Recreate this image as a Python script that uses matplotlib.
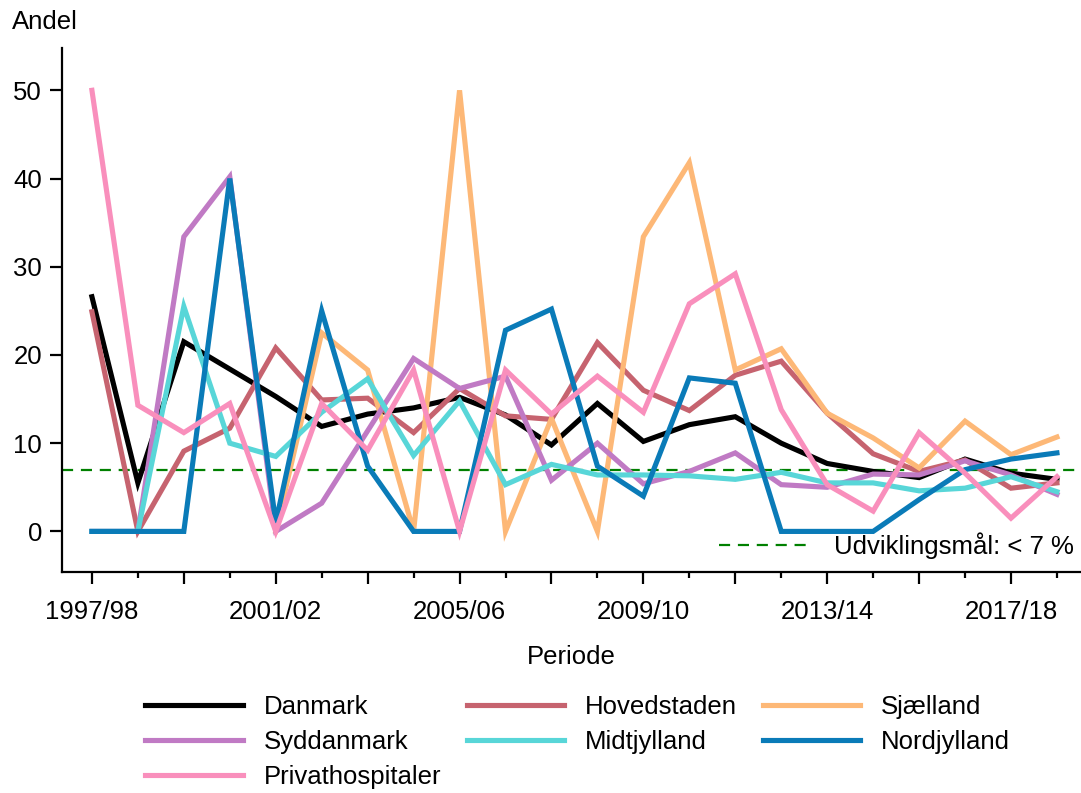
import numpy as np
import matplotlib
matplotlib.use('Agg')
import matplotlib.pyplot as plt
from matplotlib.lines import Line2D

plt.rcParams['font.family'] = ['Liberation Sans', 'DejaVu Sans']
FS = 18.5

# Perioder 1997/98 - 2018/19
periods = [f"{y}/{str(y + 1)[-2:]}" for y in range(1997, 2019)]

nan = np.nan
danmark = [26.6, 5.5, 21.5, 18.4, 15.3, 11.9, 13.3, 14.0, 15.2, 13.2, 9.8,
           14.5, 10.2, 12.1, 13.0, 10.0, 7.7, 6.8, 6.1, 8.2, 6.6, 5.9]
hovedstaden = [24.9, 0.0, 9.1, 11.7, 20.8, 14.9, 15.1, 11.2, 16.2, 13.1, 12.7,
               21.4, 16.0, 13.7, 17.7, 19.3, 13.4, 8.8, 6.8, 8.1, 4.9, 5.5]
sjaelland = [nan, nan, nan, nan, 0.0, 22.5, 18.3, 0.0, 50.0, 0.0, 12.8,
             0.0, 33.4, 41.8, 18.3, 20.7, 13.4, 10.6, 7.2, 12.5, 8.7, 10.7]
syddanmark = [0.0, 0.0, 33.4, 40.2, 0.0, 3.2, 11.4, 19.6, 16.2, 17.6, 5.8,
              10.0, 5.4, 6.8, 8.9, 5.3, 5.0, 6.5, 6.4, 8.0, 6.4, 4.2]
midtjylland = [0.0, 0.0, 25.5, 10.0, 8.5, 13.5, 17.3, 8.6, 14.8, 5.3, 7.6,
               6.4, 6.4, 6.3, 5.9, 6.7, 5.5, 5.5, 4.6, 4.9, 6.2, 4.5]
nordjylland = [0.0, 0.0, 0.0, 40.0, 1.0, 25.0, 7.4, 0.0, 0.0, 22.8, 25.2,
               7.4, 4.0, 17.4, 16.8, 0.0, 0.0, 0.0, 3.6, 7.0, 8.2, 8.9]
privat = [50.0, 14.3, 11.2, 14.5, 0.0, 14.5, 9.2, 18.3, 0.0, 18.3, 13.3,
          17.6, 13.5, 25.8, 29.2, 13.8, 5.3, 2.3, 11.2, 6.6, 1.5, 6.2]

maal = 7

series = [
    ("Danmark", danmark, "#000000"),
    ("Hovedstaden", hovedstaden, "#c6636f"),
    ("Sjælland", sjaelland, "#fdb877"),
    ("Syddanmark", syddanmark, "#c07ac4"),
    ("Midtjylland", midtjylland, "#58d6d8"),
    ("Nordjylland", nordjylland, "#0a7bb8"),
    ("Privathospitaler", privat, "#f98fbc"),
]

fig = plt.figure(figsize=(10.81, 7.93), dpi=100)
ax = fig.add_axes([0.0574, 0.2787, 0.9416, 0.6608])

x = np.arange(len(periods))
handles = {}
for name, vals, col in series:
    ln, = ax.plot(x, vals, color=col, lw=3.7, label=name, solid_joinstyle='miter')
    handles[name] = ln

ax.axhline(maal, color='#008000', lw=1.6, dashes=(5, 3.5), zorder=1)

ax.set_xlim(-0.65, 21.5)
ax.set_ylim(-4.6, 54.8)
ax.set_yticks([0, 10, 20, 30, 40, 50])

major = x[::2]
ax.set_xticks(major)
ax.set_xticklabels([periods[i] if i % 4 == 0 else '' for i in major])
ax.set_xticks(x[1::2], minor=True)

for s in ['top', 'right']:
    ax.spines[s].set_visible(False)
for s in ['left', 'bottom']:
    ax.spines[s].set_linewidth(1.6)
ax.tick_params(axis='both', which='major', length=8.5, width=1.6,
               labelsize=FS, pad=6)
ax.tick_params(axis='x', which='minor', length=4, width=1.6)
ax.tick_params(axis='x', which='major', pad=12)

ax.set_xlabel("Periode", fontsize=FS, labelpad=15)
fig.text(0.011, 0.972, "Andel", fontsize=FS, ha='left', va='center')

# målsætning som egen forklaring nederst til højre
goal = Line2D([], [], color='#008000', lw=1.6, dashes=(5, 3.5))
ax.legend([goal], ["Udviklingsmål: < 7 %"], loc='lower right',
          frameon=False, fontsize=FS, handlelength=3.6, handletextpad=0.9,
          borderaxespad=0.1, bbox_to_anchor=(1.007, 0.0))

order = ["Danmark", "Syddanmark", "Privathospitaler",
         "Hovedstaden", "Midtjylland", "Sjælland", "Nordjylland"]
fig.legend([handles[n] for n in order], order, ncol=3, frameon=False,
           fontsize=FS, loc='upper left', bbox_to_anchor=(0.125, 0.137),
           handlelength=3.8, handletextpad=0.8, columnspacing=1.0,
           labelspacing=0.44, borderaxespad=0)

fig.savefig("out.png", dpi=100)
